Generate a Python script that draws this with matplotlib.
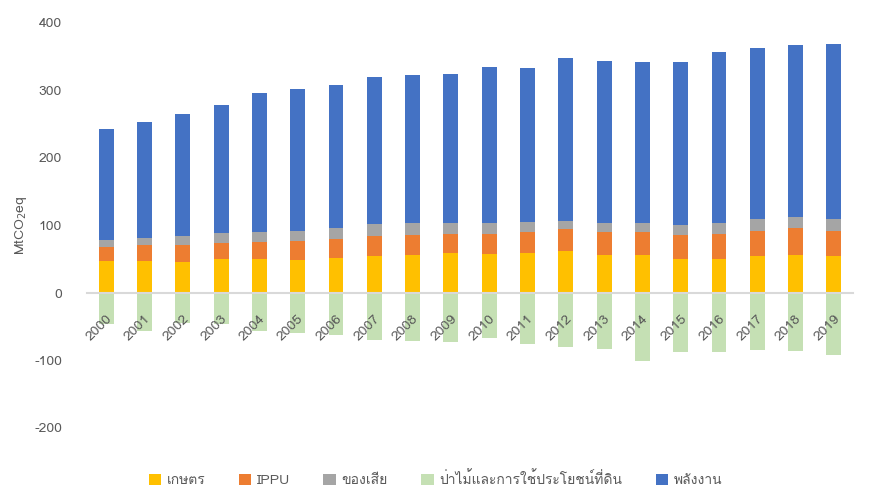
import matplotlib
matplotlib.use("Agg")
import matplotlib.pyplot as plt
from matplotlib import font_manager
import numpy as np

years = [str(y) for y in range(2000, 2020)]
agri = [48, 48, 46.4, 51, 51, 49.4, 52.3, 55.3, 56.8, 59.8,
        58.3, 59.8, 62.7, 56.8, 56.8, 50.9, 50.9, 55.3, 56.8, 55.3]
ippu = [20, 23, 25.2, 23.7, 25, 28.1, 28.2, 29.6, 29.6, 28.1,
        29.6, 31.1, 32.6, 34.1, 34.1, 35.5, 37, 37, 40, 37]
waste = [10.4, 10.4, 13.3, 14.8, 15, 14.8, 16.3, 17.8, 17.8, 16.3,
         16.3, 14.8, 11.9, 13.3, 13.3, 14.8, 16.3, 17.8, 16.3, 17.8]
forest = [-46, -56, -45, -46, -56, -59, -62, -69, -71, -72,
          -66, -75, -80.5, -83.5, -101, -88, -88, -85, -86, -92]
energy = [164.5, 171.8, 180.8, 189.6, 206, 210.4, 211.8, 217.8, 219.3, 220.7,
          231.1, 228.1, 241.4, 240, 238.5, 241.5, 253.3, 253.4, 254.8, 259.3]
labels = ["เกษตร", "IPPU", "ของเสีย", "ป่าไม้และการใช้ประโยชน์ที่ดิน", "พลังงาน"]
yticks = [-200, -100, 0, 100, 200, 300, 400]

# find a font with Thai glyphs
thai_fam = None
try:
    from fontTools.ttLib import TTFont
    for f in font_manager.fontManager.ttflist:
        try:
            tt = TTFont(f.fname, fontNumber=0, lazy=True)
            cmap = tt.getBestCmap()
            if cmap and ord("ก") in cmap and ord("ษ") in cmap:
                thai_fam = f.name
                break
        except Exception:
            continue
except Exception:
    pass
fams = ([thai_fam] if thai_fam else []) + ["DejaVu Sans"]
plt.rcParams["font.family"] = fams

fig = plt.figure(figsize=(8.71, 5.0), dpi=100)
ax = fig.add_axes([0.0999, 0.144, 0.8795, 0.81])

x = np.arange(len(years))
w = 0.39
c_agri, c_ippu, c_waste, c_forest, c_energy = "#FFC000", "#ED7D31", "#A5A5A5", "#C5E0B4", "#4472C4"
b1 = ax.bar(x, agri, w, color=c_agri, label=labels[0], zorder=2)
b2 = ax.bar(x, ippu, w, bottom=agri, color=c_ippu, label=labels[1], zorder=2)
bot2 = np.array(agri) + np.array(ippu)
b3 = ax.bar(x, waste, w, bottom=bot2, color=c_waste, label=labels[2], zorder=2)
b4 = ax.bar(x, forest, w, color=c_forest, label=labels[3], zorder=2)
bot3 = bot2 + np.array(waste)
b5 = ax.bar(x, energy, w, bottom=bot3, color=c_energy, label=labels[4], zorder=2)

ax.set_xlim(-0.5, len(years) - 0.5)
ax.set_ylim(-200, 400)
ax.set_yticks(yticks)
ax.set_yticklabels([str(v) for v in yticks], color="#595959", fontsize=10)
ax.tick_params(axis="y", length=0, pad=18)

for s in ["top", "right", "left"]:
    ax.spines[s].set_visible(False)
ax.spines["bottom"].set_position(("data", 0))
ax.spines["bottom"].set_color("#D9D9D9")
ax.spines["bottom"].set_linewidth(1.5)
ax.spines["bottom"].set_zorder(3)

ax.set_xticks(x)
ax.set_xticklabels(years, rotation=45, ha="right", rotation_mode="anchor",
                   color="#595959", fontsize=10)
ax.tick_params(axis="x", length=0, pad=14)
ax.xaxis.set_zorder(10)

ax.set_ylabel("MtCO$_2$eq", color="#595959", fontsize=10, labelpad=4)

fig.legend(handles=[b1, b2, b3, b4, b5], labels=labels, loc="lower center",
           bbox_to_anchor=(0.5, 0.0), ncol=5, frameon=False, fontsize=10,
           handlelength=0.9, handleheight=0.9, columnspacing=2.4, handletextpad=0.4,
           labelcolor="#595959")

fig.savefig("out.png", dpi=100)
